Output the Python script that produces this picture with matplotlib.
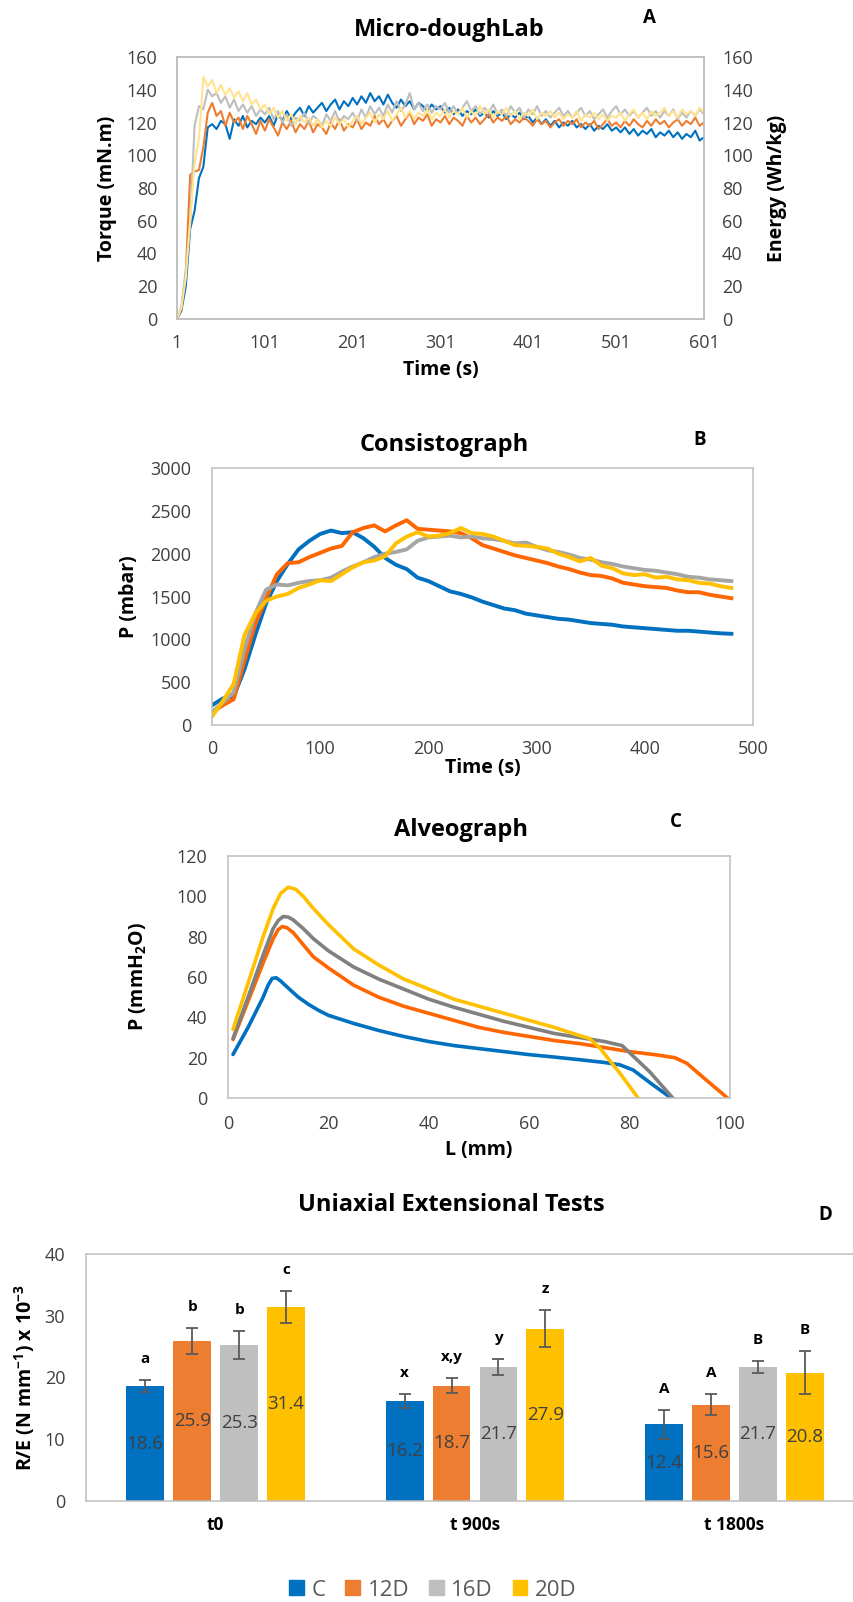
import numpy as np
import matplotlib
matplotlib.use('Agg')
import matplotlib.pyplot as plt
from matplotlib.patches import Patch

plt.rcParams['font.family'] = ['Open Sans', 'DejaVu Sans']
plt.rcParams['mathtext.fontset'] = 'custom'
plt.rcParams['mathtext.rm'] = 'Open Sans:bold'
plt.rcParams['mathtext.bf'] = 'Open Sans:bold'
plt.rcParams['mathtext.default'] = 'rm'

# ---------------- data ----------------
series_names = ['C', '12D', '16D', '20D']

# Panel A: Micro-doughLab torque (mN.m), sampled every 5 s from 1 to 601 s
time_A = np.arange(1, 602, 5)
torque_C = [0, 5, 20, 55, 66, 86, 93, 117, 119, 116,
            121, 119, 110, 122, 118, 124, 117, 121, 119, 123,
            120, 124, 118, 125, 121, 127, 122, 126, 129, 124,
            130, 126, 129, 132, 127, 131, 134, 128, 133, 130,
            135, 131, 136, 132, 138, 133, 136, 131, 137, 132,
            129, 134, 130, 133, 128, 132, 130, 127, 131, 128,
            130, 126, 129, 125, 128, 124, 127, 125, 128, 124,
            126, 123, 127, 124, 126, 122, 125, 123, 126, 122,
            124, 120, 123, 119, 122, 118, 121, 117, 120, 118,
            121, 117, 119, 116, 119, 115, 118, 116, 119, 115,
            117, 114, 117, 113, 116, 112, 115, 113, 116, 111,
            114, 112, 115, 111, 114, 110, 113, 111, 115, 109,
            111]
torque_12D = [0, 6, 28, 88, 90, 91, 105, 126, 132, 124,
              127, 118, 126, 120, 123, 116, 124, 119, 113, 121,
              115, 122, 117, 112, 120, 116, 121, 114, 119, 116,
              121, 114, 119, 117, 113, 120, 116, 122, 115, 119,
              117, 122, 116, 120, 118, 124, 119, 122, 117, 121,
              124, 118, 122, 126, 119, 123, 121, 125, 118, 122,
              120, 124, 119, 123, 121, 118, 124, 120, 123, 119,
              122, 125, 120, 123, 121, 124, 119, 122, 120, 123,
              121, 118, 122, 119, 121, 117, 120, 122, 118, 121,
              119, 122, 117, 120, 118, 121, 116, 119, 122, 118,
              120, 117, 121, 118, 122, 119, 117, 121, 118, 122,
              119, 121, 117, 120, 122, 118, 121, 119, 123, 118,
              120]
torque_16D = [0, 8, 30, 58, 118, 130, 128, 140, 136, 138,
              132, 136, 129, 134, 127, 131, 126, 130, 124, 128,
              125, 129, 122, 127, 120, 125, 118, 123, 121, 126,
              119, 124, 122, 118, 125, 121, 127, 120, 124, 122,
              126, 121, 128, 123, 130, 125, 129, 124, 131, 126,
              133, 127, 131, 138, 128, 132, 127, 131, 126, 130,
              128, 132, 126, 130, 125, 129, 133, 127, 130, 125,
              129, 126, 131, 125, 128, 124, 130, 126, 129, 123,
              128, 125, 130, 124, 127, 123, 126, 129, 124, 127,
              123, 126, 129, 124, 127, 122, 125, 128, 123, 127,
              130, 125, 128, 124, 127, 123, 126, 129, 124, 127,
              123, 127, 124, 128, 122, 126, 123, 127, 124, 128,
              125]
torque_20D = [0, 7, 25, 60, 95, 110, 148, 142, 146, 138,
              143, 137, 141, 135, 139, 133, 138, 131, 134, 128,
              131, 125, 129, 123, 127, 121, 125, 119, 124, 120,
              123, 118, 122, 117, 121, 118, 123, 119, 122, 117,
              121, 124, 119, 123, 126, 120, 125, 122, 127, 121,
              125, 129, 123, 127, 122, 126, 124, 128, 122, 126,
              124, 128, 123, 127, 125, 129, 123, 127, 124, 130,
              125, 128, 123, 127, 125, 129, 124, 127, 122, 126,
              124, 128, 122, 126, 124, 127, 123, 126, 122, 125,
              123, 127, 121, 125, 123, 126, 122, 125, 121, 124,
              123, 126, 121, 125, 128, 123, 126, 122, 127, 124,
              126, 129, 124, 127, 123, 128, 125, 127, 124, 129,
              126]

# Panel B: Consistograph pressure (mbar), every 10 s from 0 to 480 s
time_B = np.arange(0, 481, 10)
press_C = [230, 310, 330, 650, 1050, 1420, 1680, 1880, 2050, 2150,
           2230, 2270, 2240, 2250, 2180, 2080, 1950, 1870, 1820, 1720,
           1680, 1620, 1560, 1530, 1490, 1440, 1400, 1360, 1340, 1300,
           1280, 1260, 1240, 1230, 1210, 1190, 1180, 1170, 1150, 1140,
           1130, 1120, 1110, 1100, 1100, 1090, 1080, 1070, 1065]
press_12D = [150, 230, 300, 750, 1180, 1480, 1760, 1890, 1900, 1960,
             2010, 2060, 2090, 2250, 2300, 2330, 2260, 2330, 2390, 2290,
             2280, 2270, 2260, 2240, 2180, 2100, 2060, 2020, 1980, 1950,
             1920, 1890, 1850, 1820, 1780, 1750, 1740, 1710, 1660, 1640,
             1620, 1610, 1600, 1570, 1550, 1550, 1520, 1500, 1480]
press_16D = [150, 260, 380, 880, 1300, 1580, 1640, 1630, 1660, 1680,
             1690, 1720, 1790, 1850, 1900, 1960, 2000, 2020, 2050, 2150,
             2190, 2200, 2210, 2190, 2200, 2180, 2170, 2150, 2120, 2130,
             2080, 2040, 2020, 1990, 1950, 1930, 1900, 1880, 1850, 1830,
             1810, 1800, 1780, 1760, 1730, 1720, 1700, 1690, 1680]
press_20D = [100, 280, 480, 1050, 1300, 1450, 1500, 1530, 1600, 1640,
             1690, 1680, 1760, 1840, 1900, 1920, 1970, 2120, 2200, 2250,
             2200, 2210, 2240, 2300, 2240, 2230, 2200, 2150, 2100, 2090,
             2080, 2060, 2000, 1960, 1910, 1950, 1860, 1830, 1770, 1750,
             1760, 1720, 1730, 1700, 1690, 1660, 1650, 1620, 1600]

# Panel C: Alveograph curves, L (mm) and P (mmH2O)
L_C = [1, 4, 7, 8, 8.8, 9.6, 10.5, 12, 14, 16, 18, 20, 25, 30, 35, 40, 45, 50, 55, 60, 65, 70, 75, 78, 80.7, 84.7, 88.3]
P_C = [21.6, 35, 50, 56, 59.3, 59.6, 58, 54.5, 50, 46.5, 43.5, 41, 37, 33.5, 30.5, 28, 26, 24.5, 23, 21.5, 20.3, 19, 17.6, 16.5, 13.9, 6.4, 0]
L_12D = [1, 4, 7, 9, 10, 10.8, 11.7, 13, 15, 17, 20, 25, 30, 35, 40, 45, 50, 55, 60, 65, 70, 75, 80, 85, 89, 91.4, 95, 99.5]
P_12D = [29, 48, 67, 79, 83.5, 85, 84.5, 82, 76, 70, 64.5, 56, 50, 45.5, 42, 38.5, 35, 32.5, 30.5, 28.5, 27, 25, 23, 21.5, 20, 17.2, 9.5, 0]
L_16D = [1, 4, 7, 9, 10, 11, 12, 13, 15, 17, 20, 25, 30, 35, 40, 45, 50, 55, 60, 65, 70, 75, 78.5, 84, 88.6]
P_16D = [29.5, 50, 71, 84, 88, 90, 89.7, 88.3, 84, 79, 73, 65, 59, 54, 49, 45, 41.5, 38, 35, 32, 30, 28, 26, 13, 0]
L_20D = [1, 4, 7, 9, 10.5, 12, 13.5, 15, 17, 20, 25, 30, 35, 40, 45, 50, 55, 60, 65, 70, 72, 74, 78, 81.7]
P_20D = [34, 57, 80, 94, 101.5, 104.5, 103.5, 100, 94, 86, 74, 66, 59, 54, 49, 45.5, 42, 38.5, 35, 31, 29.5, 25, 12.5, 0]

# Panel D: Uniaxial extensional tests R/E (N mm-1) x 10-3
categories_D = ['t0', 't 900s', 't 1800s']
RE_C = [18.6, 16.2, 12.4]
RE_12D = [25.9, 18.7, 15.6]
RE_16D = [25.3, 21.7, 21.7]
RE_20D = [31.4, 27.9, 20.8]
err_C = [1.0, 1.1, 2.4]
err_12D = [2.1, 1.25, 1.75]
err_16D = [2.3, 1.35, 1.0]
err_20D = [2.6, 3.0, 3.55]
letters_C = ['a', 'x', 'A']
letters_12D = ['b', 'x,y', 'A']
letters_16D = ['b', 'y', 'B']
letters_20D = ['c', 'z', 'B']

# ---------------- figure ----------------
W, H = 854, 1602
fig = plt.figure(figsize=(W / 100, H / 100), dpi=100)


def axes_px(l, t, r, b):
    return fig.add_axes([l / W, 1 - b / H, (r - l) / W, (b - t) / H])


def style(ax, xpad, ypad):
    for s in ax.spines.values():
        s.set_color('#BFBFBF')
        s.set_linewidth(1.1)
    ax.tick_params(length=0, labelsize=13, labelcolor='#404040')
    ax.tick_params(axis='x', pad=xpad)
    ax.tick_params(axis='y', pad=ypad)


def ftext(x, y, s, **kw):
    fig.text(x / W, 1 - y / H, s, ha='center', va='center', **kw)


LABEL = dict(fontsize=14, fontweight='bold', color='black')
TITLE = dict(fontsize=17, fontweight='bold')

# ---- Panel A ----
axA = axes_px(177, 57, 704, 319)
colors_A = ['#0070C0', '#ED7D31', '#BEBEBE', '#FFE38F']
for vals, col in zip([torque_C, torque_12D, torque_16D, torque_20D], colors_A):
    axA.plot(time_A, vals, color=col, lw=1.5)
axA.set_xlim(1, 601)
axA.set_ylim(0, 160)
axA.set_xticks(range(1, 602, 100))
axA.set_yticks(range(0, 161, 20))
style(axA, 11, 14)
axA.set_ylabel('Torque (mN.m)', va='center', **LABEL)
axA.yaxis.set_label_coords((107 - 177) / 527, 0.5)
axA.set_xlabel('Time (s)', va='center', **LABEL)
axA.xaxis.set_label_coords(0.5, -(370 - 319) / 262)
axR = axA.twinx()
axR.set_ylim(0, 160)
axR.set_yticks(range(0, 161, 20))
style(axR, 11, 13)
axR.set_ylabel('Energy (Wh/kg)', va='center', **LABEL)
axR.yaxis.set_label_coords((777 - 177) / 527, 0.5)
ftext(449, 30, 'Micro-doughLab', **TITLE)
ftext(649, 18, 'A', fontsize=13.5, fontweight='bold')

# ---- Panel B ----
axB = axes_px(212, 468, 753, 725)
colors_B = ['#0070C0', '#FF6600', '#A5A5A5', '#FFC000']
for vals, col in zip([press_C, press_12D, press_16D, press_20D], colors_B):
    axB.plot(time_B, vals, color=col, lw=2.8)
axB.set_xlim(0, 500)
axB.set_ylim(0, 3000)
axB.set_xticks(range(0, 501, 100))
axB.set_yticks(range(0, 3001, 500))
style(axB, 11, 15)
axB.set_ylabel('P (mbar)', va='center', **LABEL)
axB.yaxis.set_label_coords((129 - 212) / 541, 0.5)
axB.set_xlabel('Time (s)', va='center', **LABEL)
axB.xaxis.set_label_coords(0.5, -(768 - 725) / 257)
ftext(444, 445, 'Consistograph', **TITLE)
ftext(700, 440, 'B', fontsize=13.5, fontweight='bold')

# ---- Panel C ----
axC = axes_px(228, 856, 730, 1098)
colors_C = ['#0070C0', '#FF6600', '#808080', '#FFC000']
for Ls, Ps, col in zip([L_C, L_12D, L_16D, L_20D], [P_C, P_12D, P_16D, P_20D], colors_C):
    axC.plot(Ls, Ps, color=col, lw=2.6, solid_capstyle='round', solid_joinstyle='round')
axC.set_xlim(0, 100)
axC.set_ylim(0, 120)
axC.set_xticks(range(0, 101, 20))
axC.set_yticks(range(0, 121, 20))
style(axC, 12, 15)
axC.set_ylabel(r'P (mmH$_2$O)', va='center', **LABEL)
axC.yaxis.set_label_coords((138 - 228) / 502, 0.5)
axC.set_xlabel('L (mm)', va='center', **LABEL)
axC.xaxis.set_label_coords(0.5, -(1150 - 1098) / 242)
ftext(461, 830, 'Alveograph', **TITLE)
ftext(676, 822, 'C', fontsize=13.5, fontweight='bold')

# ---- Panel D ----
axD = axes_px(86, 1254, 864, 1501)
colors_D = ['#0070C0', '#ED7D31', '#BFBFBF', '#FFC000']
xcat = np.arange(len(categories_D))
step, width = 0.181, 0.146
all_vals = [RE_C, RE_12D, RE_16D, RE_20D]
all_errs = [err_C, err_12D, err_16D, err_20D]
all_letters = [letters_C, letters_12D, letters_16D, letters_20D]
for i, (vals, errs, lets, col) in enumerate(zip(all_vals, all_errs, all_letters, colors_D)):
    pos = xcat + (i - 1.5) * step
    axD.bar(pos, vals, width, color=col, yerr=errs,
            error_kw=dict(ecolor='#5A5A5A', elinewidth=1.3, capsize=4, capthick=1.3))
    for p, v, e, lt in zip(pos, vals, errs, lets):
        axD.text(p, v / 2, f'{v:.1f}', ha='center', va='center', fontsize=13.5, color='#404040')
        axD.text(p, v + e + 3.4, lt, ha='center', va='center', fontsize=11, fontweight='bold')
axD.set_xlim(-0.5, 2.5)
axD.set_ylim(0, 40)
axD.set_yticks(range(0, 41, 10))
axD.set_xticks(xcat)
axD.set_xticklabels(categories_D)
style(axD, 11, 15)
for lab in axD.get_xticklabels():
    lab.set_fontweight('bold')
    lab.set_color('black')
    lab.set_fontsize(12.5)
axD.set_ylabel(r'R/E (N mm$^{-1}$) x 10$^{-3}$', va='center', **LABEL)
axD.yaxis.set_label_coords((25 - 86) / 778, 0.5)
ftext(451, 1205, 'Uniaxial Extensional Tests', **TITLE)
ftext(825, 1215, 'D', fontsize=13.5, fontweight='bold')

handles = [Patch(color=c) for c in colors_D]
fig.legend(handles, series_names, loc='center', bbox_to_anchor=(433 / W, 1 - 1590 / H),
           ncol=4, frameon=False, fontsize=16, handlelength=0.65, handleheight=0.65,
           handletextpad=0.35, columnspacing=0.9, labelcolor='#595959')

fig.savefig('out.png', dpi=100)
